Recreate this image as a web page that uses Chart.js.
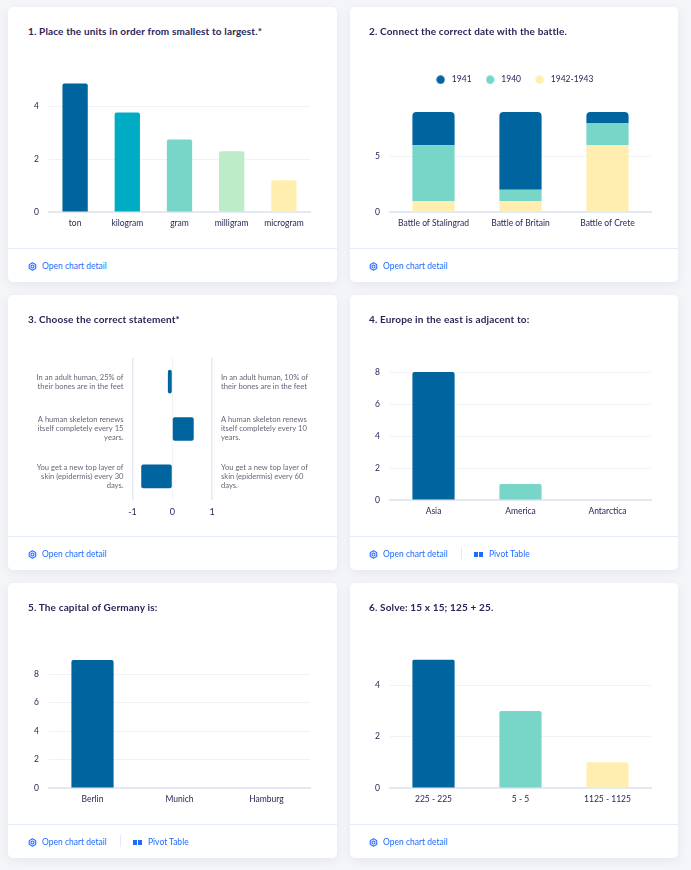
<!DOCTYPE html>
<html>
<head>
<meta charset="utf-8">
<script src="https://cdn.jsdelivr.net/npm/chart.js@4"></script>
<style>
  html, body { margin: 0; padding: 0; background: #f3f5f9; }
  body { width: 691px; height: 870px; position: relative; overflow: hidden; font-family: Lato, sans-serif; }
  .card { position: absolute; width: 329px; height: 275px; background: #fff; border-radius: 5px; box-shadow: 0 3px 10px rgba(40, 60, 110, 0.07); }
  .card h2 { position: absolute; left: 20px; top: 17px; margin: 0; font-size: 10px; letter-spacing: 0.15px; line-height: 14px; font-weight: 700; color: #2b2557; white-space: nowrap; }
  .card canvas { position: absolute; left: 0; top: 0; }
  .foot { position: absolute; left: 0; right: 0; top: 241px; height: 34px; border-top: 1px solid #e3ebf8; color: #1f6bff; font-size: 8.5px; }
  .foot span, .foot svg, .foot i { position: absolute; }
  .foot span { top: 11px; line-height: 12px; white-space: nowrap; }
  .foot i { left: 112px; top: 10px; width: 1px; height: 12px; background: #e3ebf8; }
  .r { width: 328px; }
  .r h2, .r canvas, .r .foot span, .r .foot svg, .r .foot i { margin-left: -1px; }
</style>
</head>
<body>
<script>
const cardLefts = [8, 350];
const cardTops = [7, 295, 583];

const titles = [
    '1. Place the units in order from smallest to largest.*',
    '2. Connect the correct date with the battle.',
    '3. Choose the correct statement*',
    '4. Europe in the east is adjacent to:',
    '5. The capital of Germany is:',
    '6. Solve: 15 x 15; 125 + 25.'
];

const unitLabels = ['ton', 'kilogram', 'gram', 'milligram', 'microgram'];
const unitValues = [4.87, 3.77, 2.75, 2.3, 1.2];

const battleLabels = ['Battle of Stalingrad', 'Battle of Britain', 'Battle of Crete'];
const battles1941 = [3, 7, 1];
const battles1940 = [5, 1, 2];
const battles1942 = [1, 1, 6];

const statementLeft = [
    ['In an adult human, 25% of', 'their bones are in the feet'],
    ['A human skeleton renews', 'itself completely every 15', 'years.'],
    ['You get a new top layer of', 'skin (epidermis) every 30', 'days.']
];
const statementRight = [
    ['In an adult human, 10% of', 'their bones are in the feet'],
    ['A human skeleton renews', 'itself completely every 10', 'years.'],
    ['You get a new top layer of', 'skin (epidermis) every 60', 'days.']
];
const statementValues = [-0.11, 0.54, -0.78];

const europeLabels = ['Asia', 'America', 'Antarctica'];
const europeValues = [8, 1, 0];

const capitalLabels = ['Berlin', 'Munich', 'Hamburg'];
const capitalValues = [9, 0, 0];

const solveLabels = ['225 - 225', '5 - 5', '1125 - 1125'];
const solveValues = [5, 3, 1];

const BLUE = '#00659e';
const CYAN = '#00abc4';
const TEAL = '#78d6c9';
const MINT = '#bdecc9';
const YELLOW = '#ffeeb0';
const INK = '#2b2557';
const GREY = '#66667a';
const GRID = '#eff3f8';
const AXIS = '#e3e9f3';

Chart.defaults.font.family = 'Lato, sans-serif';
Chart.defaults.font.size = 8.5;
Chart.defaults.color = INK;

const pivotCards = [3, 4];

function addCard(i) {
    const card = document.createElement('div');
    card.className = i % 2 ? 'card r' : 'card';
    card.style.left = cardLefts[i % 2] + 'px';
    card.style.top = cardTops[Math.floor(i / 2)] + 'px';
    let foot = '<svg style="left:20px;top:13px" width="9" height="9" viewBox="0 0 10 10" fill="none" stroke="#1f6bff" stroke-width="1.2">'
        + '<circle cx="5" cy="5" r="1.7"/><path d="M5 .8 8.6 2.9V7.1L5 9.2 1.4 7.1V2.9Z" stroke-linejoin="round"/></svg>'
        + '<span style="left:34px">Open chart detail</span>';
    if (pivotCards.includes(i)) {
        foot += '<i></i><svg style="left:125px;top:15px" width="9" height="5" fill="#1f6bff"><rect width="4" height="5"/><rect x="5" width="4" height="5"/></svg>'
            + '<span style="left:140px">Pivot Table</span>';
    }
    card.innerHTML = '<h2>' + titles[i] + '</h2><canvas width="329" height="241"></canvas><div class="foot">' + foot + '</div>';
    document.body.appendChild(card);
    return card.querySelector('canvas').getContext('2d');
}

function barOptions(top, yMax, yTicks) {
    return {
        responsive: false,
        animation: false,
        layout: { padding: { left: 0, right: 27, top: top, bottom: 8 } },
        plugins: { legend: { display: false }, tooltip: { enabled: false } },
        scales: {
            x: {
                grid: { display: false, drawTicks: false },
                border: { color: AXIS, width: 2 },
                ticks: { padding: 6, maxRotation: 0, autoSkip: false },
                afterFit: s => { s.height = 28; }
            },
            y: {
                min: 0,
                max: yMax,
                grid: { color: GRID, drawTicks: false },
                border: { display: false },
                ticks: { padding: 10 },
                afterBuildTicks: s => { s.ticks = yTicks.map(v => ({ value: v })); },
                afterFit: s => { s.width = 41; }
            }
        }
    };
}

function simpleBars(i, labels, values, colors, top, yMax, yTicks) {
    new Chart(addCard(i), {
        type: 'bar',
        data: {
            labels: labels,
            datasets: [{
                data: values,
                backgroundColor: colors,
                borderRadius: 2,
                borderSkipped: 'bottom',
                barPercentage: 0.485,
                categoryPercentage: 1
            }]
        },
        options: barOptions(top, yMax, yTicks)
    });
}

simpleBars(0, unitLabels, unitValues, [BLUE, CYAN, TEAL, MINT, YELLOW], 73, 5, [0, 2, 4]);

// legend dot as an image so it can sit in a wider box than the circle itself
function legendDot(color) {
    const dot = document.createElement('canvas');
    dot.width = 9;
    dot.height = 9;
    const ctx = dot.getContext('2d');
    ctx.fillStyle = color;
    ctx.beginPath();
    ctx.arc(4.5, 4.5, 4.2, 0, Math.PI * 2);
    ctx.fill();
    return dot;
}

// battles, stack bottom to top, legend is reversed to match
const battleOptions = barOptions(57, 9, [0, 5]);
battleOptions.scales.x.stacked = true;
battleOptions.scales.y.stacked = true;
battleOptions.plugins.legend = {
    display: true,
    position: 'top',
    fullSize: false,
    reverse: true,
    labels: {
        usePointStyle: true,
        pointStyleWidth: 14,
        boxHeight: 6,
        padding: 11.5,
        color: INK,
        generateLabels: chart => Chart.defaults.plugins.legend.labels.generateLabels(chart).map(item => {
            item.pointStyle = legendDot(chart.data.datasets[item.datasetIndex].backgroundColor);
            return item;
        })
    }
};
// more room under the legend, and nudge it left of the plot centre
const legendGap = {
    id: 'legendGap',
    beforeLayout(chart) {
        if (chart.legend.gapDone) return;
        const fit = chart.legend.fit;
        chart.legend.fit = function () {
            fit.call(this);
            this.height += 18;
        };
        chart.legend.gapDone = true;
    },
    afterLayout(chart) {
        chart.legend.left -= 14;
    }
};
const stackBar = { barPercentage: 0.485, categoryPercentage: 1, borderWidth: 0 };
new Chart(addCard(1), {
    type: 'bar',
    data: {
        labels: battleLabels,
        datasets: [
            { label: '1942-1943', data: battles1942, backgroundColor: YELLOW, ...stackBar },
            { label: '1940', data: battles1940, backgroundColor: TEAL, ...stackBar },
            {
                label: '1941', data: battles1941, backgroundColor: BLUE, ...stackBar,
                borderRadius: { topLeft: 4, topRight: 4, bottomLeft: 0, bottomRight: 0 },
                borderSkipped: false
            }
        ]
    },
    options: battleOptions,
    plugins: [legendGap]
});

const statementTicks = { padding: 9, autoSkip: false, color: GREY, font: { size: 7.6, lineHeight: 1.18 } };

// statements, labels on both sides of the bars
new Chart(addCard(2), {
    type: 'bar',
    data: {
        labels: statementLeft,
        datasets: [{
            data: statementValues,
            backgroundColor: BLUE,
            borderRadius: 2,
            borderSkipped: false,
            barPercentage: 0.5,
            categoryPercentage: 1
        }]
    },
    options: {
        indexAxis: 'y',
        responsive: false,
        animation: false,
        layout: { padding: { left: 0, right: 0, top: 63, bottom: 8 } },
        plugins: { legend: { display: false }, tooltip: { enabled: false } },
        scales: {
            x: {
                min: -1,
                max: 1,
                grid: {
                    drawTicks: false,
                    color: c => (c.tick.value === 0 ? GRID : AXIS),
                    lineWidth: c => (c.tick.value === 0 ? 1 : 1.5)
                },
                border: { display: false },
                ticks: { stepSize: 1, padding: 7, font: { size: 9 } },
                afterFit: s => { s.height = 28; }
            },
            y: {
                grid: { display: false, drawTicks: false },
                border: { display: false },
                ticks: statementTicks,
                afterFit: s => { s.width = 124.5; }
            },
            y2: {
                type: 'category',
                axis: 'y',
                position: 'right',
                offset: true,
                labels: statementRight,
                grid: { display: false, drawTicks: false },
                border: { display: false },
                ticks: statementTicks,
                afterFit: s => { s.width = 125; }
            }
        }
    }
});

simpleBars(3, europeLabels, europeValues, [BLUE, TEAL, YELLOW], 77, 8, [0, 2, 4, 6, 8]);
simpleBars(4, capitalLabels, capitalValues, [BLUE, TEAL, YELLOW], 77, 9, [0, 2, 4, 6, 8]);
simpleBars(5, solveLabels, solveValues, [BLUE, TEAL, YELLOW], 76.5, 5, [0, 2, 4]);
</script>
</body>
</html>
